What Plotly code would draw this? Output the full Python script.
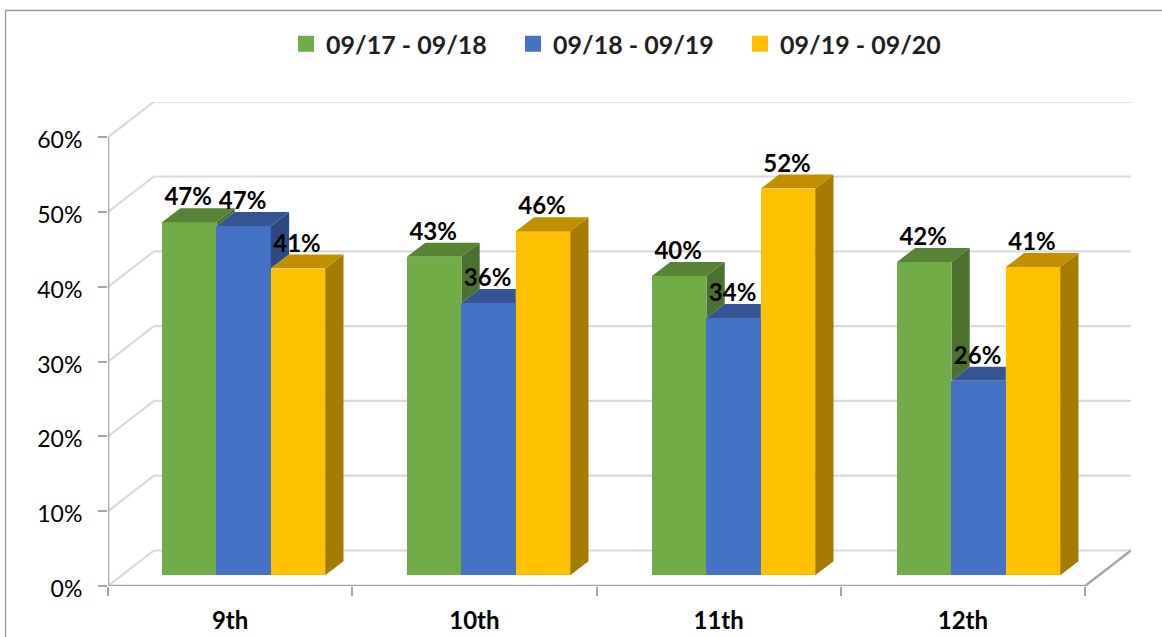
import plotly.graph_objects as go

grades = ["9th", "10th", "11th", "12th"]
series_names = ["09/17 - 09/18", "09/18 - 09/19", "09/19 - 09/20"]
green_values = [47.2, 42.6, 40.0, 41.9]
blue_values = [46.7, 36.4, 34.4, 26.0]
gold_values = [41.0, 46.0, 51.7, 41.2]
y_ticks = [0, 10, 20, 30, 40, 50, 60]

front_colors = ["#70AD47", "#4472C4", "#FFC000"]
top_colors = ["#578335", "#335593", "#BF9000"]
side_colors = ["#4B712E", "#2C4A80", "#A67C00"]

W, H = 1162, 637
L, R, T, B = 108, 31, 102, 51
PX_X = 244.25          # pixels per category
PX_Y = 7.48            # pixels per percentage point
xmax = (W - L - R) / PX_X
ymax = (H - T - B) / PX_Y

wall_dx, wall_dy = 46 / PX_X, 35.5 / PX_Y     # floor depth
bar_dx, bar_dy = 18.3 / PX_X, 14 / PX_Y       # bar depth
floor = 10.7 / PX_Y                           # bars stand this far inside the floor
bar_w = 54.4 / PX_X
first_left = 54.0 / PX_X                      # first bar's left edge within a category
group_step = 245.0 / PX_X
label_gap = 23 / PX_Y

series = [green_values, blue_values, gold_values]
fig = go.Figure()

# front faces
for s, vals in enumerate(series):
    fig.add_trace(go.Bar(
        x=[i * group_step + first_left + (s + 0.5) * bar_w for i in range(len(grades))],
        y=vals, base=floor, width=bar_w,
        marker=dict(color=front_colors[s], line=dict(width=0)),
        showlegend=False, hoverinfo="skip",
    ))


def poly(xs, ys, color):
    fig.add_trace(go.Scatter(
        x=xs + xs[:1], y=ys + ys[:1], mode="lines", fill="toself",
        fillcolor=color, line=dict(width=0), showlegend=False, hoverinfo="skip",
    ))


# top and side faces, painted left to right
for i in range(len(grades)):
    for s, vals in enumerate(series):
        xl = i * group_step + first_left + s * bar_w
        xr = xl + bar_w
        t = vals[i] + floor
        nxt = series[s + 1][i] + floor if s < 2 else None
        if nxt is not None and nxt > t:
            poly([xl, xr, xr, xl + bar_dx], [t, t, t + bar_dy, t + bar_dy], top_colors[s])
        else:
            low = nxt if nxt is not None else floor
            poly([xr, xr + bar_dx, xr + bar_dx, xr],
                 [low, low + bar_dy, t + bar_dy, t], side_colors[s])
            poly([xl, xr, xr + bar_dx, xl + bar_dx],
                 [t, t, t + bar_dy, t + bar_dy], top_colors[s])

# data labels
for s, vals in enumerate(series):
    fig.add_trace(go.Scatter(
        x=[i * group_step + first_left + (s + 0.5) * bar_w - 1 / PX_X for i in range(len(grades))],
        y=[v + floor + label_gap for v in vals],
        mode="text", text=[f"{round(v)}%" for v in vals], textposition="middle center",
        textfont=dict(family="Lato", size=24, color="#000000", weight="bold"),
        showlegend=False, hoverinfo="skip", cliponaxis=False,
    ))

# dark axis lines
ax_color = "#A6A6A6"
n = len(grades)
fig.add_trace(go.Scatter(x=[0, 0], y=[0, y_ticks[-1]], mode="lines",
                         line=dict(color=ax_color, width=2.5), showlegend=False,
                         hoverinfo="skip", cliponaxis=False))
fig.add_trace(go.Scatter(x=[0, n, n + wall_dx], y=[0, 0, wall_dy], mode="lines",
                         line=dict(color=ax_color, width=2.5), showlegend=False,
                         hoverinfo="skip", cliponaxis=False))

# legend entries
for s, name in enumerate(series_names):
    fig.add_trace(go.Scatter(
        x=[None], y=[None], mode="markers", name=name,
        marker=dict(symbol="square", size=17, color=front_colors[s]),
    ))

# wall and floor gridlines, below the marks
shapes = []
for v in y_ticks:
    shapes.append(dict(type="path", xref="x", yref="y", layer="below",
                       path=f"M0,{v} L{wall_dx},{v + wall_dy} L{xmax},{v + wall_dy}",
                       line=dict(color="#D9D9D9", width=2.2)))
# outer chart border (runs off the page at the right and bottom)
shapes.append(dict(type="path", xref="paper", yref="paper", layer="below",
                   path=f"M{(5.5 - L) / (W - L - R)},{-B / (H - T - B) - 0.01} "
                        f"L{(5.5 - L) / (W - L - R)},{(H - B - 10.5) / (H - T - B)} "
                        f"L{(W - L + 5) / (W - L - R)},{(H - B - 10.5) / (H - T - B)}",
                   line=dict(color="#9A9A9A", width=1.3)))

fig.update_layout(
    width=W, height=H, autosize=False,
    margin=dict(l=L, r=R, t=T, b=B, pad=0, autoexpand=False),
    paper_bgcolor="#FFFFFF", plot_bgcolor="rgba(0,0,0,0)",
    barmode="overlay", bargap=0,
    shapes=shapes,
    font=dict(family="Lato", color="#000000"),
    legend=dict(
        orientation="h", xref="container", yref="container",
        x=286 / W, y=1 - 21 / H, xanchor="left", yanchor="top",
        entrywidth=182, entrywidthmode="pixels",
        itemsizing="trace", itemclick=False, itemdoubleclick=False,
        font=dict(family="Lato", size=25, color="#1F1F1F", weight="bold"),
        bgcolor="rgba(0,0,0,0)", traceorder="normal",
    ),
    xaxis=dict(
        range=[0, xmax], showgrid=False, zeroline=False, showline=False, automargin=False,
        tickmode="array", tickvals=[i + 0.5 for i in range(n)], ticktext=grades,
        ticks="", ticklabelstandoff=18,
        tickfont=dict(family="Lato", size=24, color="#000000", weight="bold"),
        minor=dict(tickmode="array", tickvals=list(range(n + 1)), ticks="outside",
                   ticklen=9, tickwidth=1.5, tickcolor=ax_color, showgrid=False),
    ),
    yaxis=dict(
        range=[0, ymax], showgrid=False, zeroline=False, showline=False, automargin=False,
        tickmode="array", tickvals=y_ticks, ticktext=[f"{v}%" for v in y_ticks],
        ticks="outside", ticklen=9, tickwidth=1.5, tickcolor=ax_color,
        ticklabelstandoff=11, ticklabelshift=3,
        tickfont=dict(family="Lato", size=23, color="#000000"),
    ),
)

fig.write_html("out.html", config={"displayModeBar": False},
               post_script="document.body.style.margin='0';document.body.style.overflow='hidden';")
